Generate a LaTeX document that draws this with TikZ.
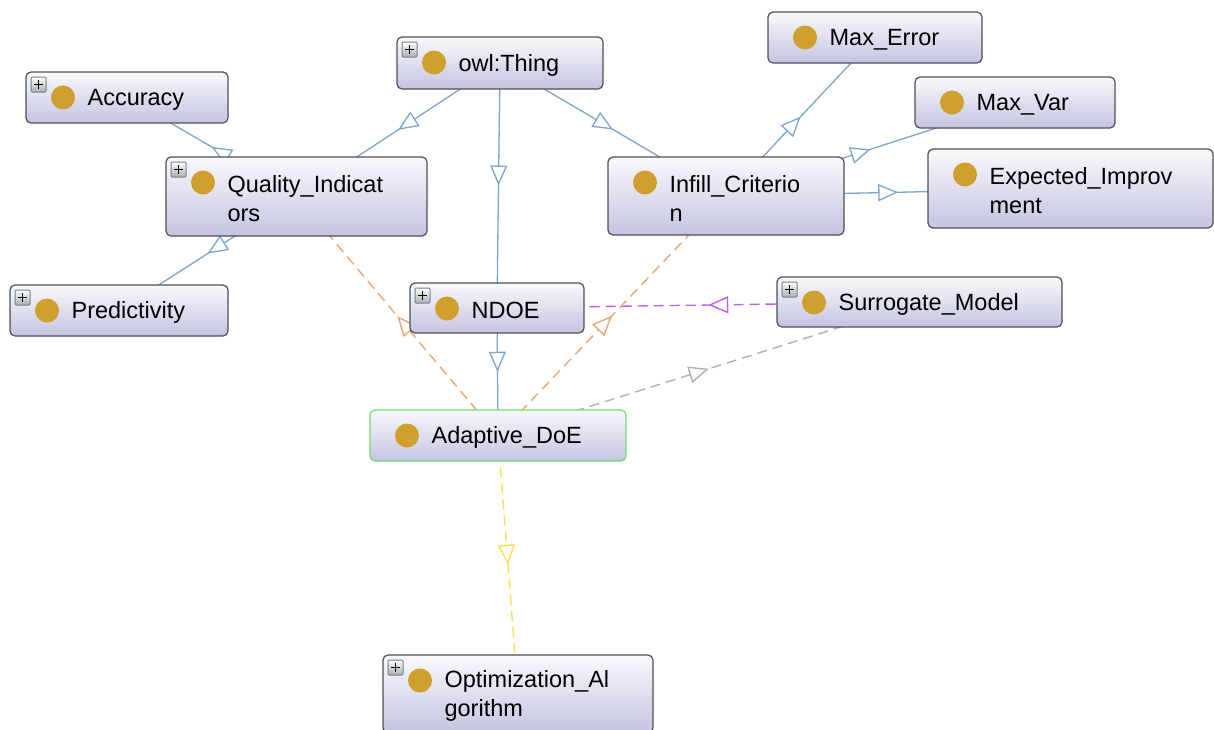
\documentclass[tikz,border=0pt]{standalone}
\usepackage{fontspec}
\setmainfont{Liberation Sans}
\usetikzlibrary{arrows.meta,decorations.markings,backgrounds}

\definecolor{clsline}{RGB}{78,78,86}
\definecolor{clstop}{RGB}{249,249,253}
\definecolor{clsbot}{RGB}{196,196,225}
\definecolor{ballgold}{RGB}{208,160,46}
\definecolor{plusline}{RGB}{112,132,150}
\definecolor{plusfill}{RGB}{172,172,172}
\definecolor{adaptgreen}{RGB}{112,220,112}
\definecolor{isablue}{RGB}{122,166,208}
\definecolor{relorange}{RGB}{238,166,112}
\definecolor{relpurple}{RGB}{192,92,240}
\definecolor{relgray}{RGB}{176,176,176}
\definecolor{relyellow}{RGB}{255,222,84}

\begin{document}
\begin{tikzpicture}[x=1pt, y=-1pt,
  cls/.style={draw=clsline, line width=1.2pt, rounded corners=5pt,
              top color=clstop, bottom color=clsbot, inner sep=0pt,
              path picture={\fill[ballgold] ([shift={(37,25.5)}]path picture bounding box.north west) circle (12pt);}},
  xcls/.style={cls,
              path picture={\fill[ballgold] ([shift={(37,25.5)}]path picture bounding box.north west) circle (12pt);
                \draw[plusline, line width=1pt, rounded corners=1pt, top color=white, bottom color=plusfill]
                  ([shift={(5,5)}]path picture bounding box.north west) rectangle ++(15,15);
                \draw[black, line width=1.8pt]
                  ([shift={(8,12.5)}]path picture bounding box.north west) -- ++(9,0)
                  ([shift={(12.5,8)}]path picture bounding box.north west) -- ++(0,9);}},
  clsname/.style={anchor=west, xshift=62pt, yshift=-2pt, inner sep=0pt, align=left,
                  font=\fontsize{23.5}{29}\selectfont},
  isa/.style={line width=1.3pt, postaction={decorate},
              decoration={markings, mark=at position 0.5 with
                {\arrow{Triangle[length=20pt, width=17pt, fill=white]}}}},
  rel/.style={isa, draw=#1, line width=1.4pt, dash pattern=on 10pt off 6pt}
]
  \useasboundingbox (0,0) rectangle (1214,729);

  % top row
  \node[xcls, minimum width=206, minimum height=52, label={[clsname]left:{owl:Thing}}] (thing) at (500,63) {};
  \node[xcls, minimum width=202, minimum height=51, label={[clsname]left:Accuracy}] (acc) at (127,97.5) {};
  \node[cls, minimum width=214, minimum height=51, label={[clsname]left:Max\_Error}] (maxerr) at (875,37.5) {};
  \node[cls, minimum width=200, minimum height=51, label={[clsname]left:Max\_Var}] (maxvar) at (1015,102.5) {};

  % second row
  \node[xcls, minimum width=261, minimum height=79, label={[clsname]left:Quality\_Indicat\\ors}] (qi) at (296.5,196.5) {};
  \node[cls, minimum width=236, minimum height=78, label={[clsname]left:Infill\_Criterio\\n}] (infill) at (726,196) {};
  \node[cls, minimum width=285, minimum height=79, label={[clsname]left:Expected\_Improv\\ment}] (expected) at (1070.5,188.5) {};

  % third row
  \node[xcls, minimum width=218, minimum height=51, label={[clsname]left:Predictivity}] (pred) at (119,310.5) {};
  \node[xcls, minimum width=174, minimum height=50, label={[clsname]left:NDOE}] (ndoe) at (497,308) {};
  \node[xcls, minimum width=285, minimum height=50, label={[clsname]left:Surrogate\_Model}] (surr) at (919.5,302) {};

  % lower part
  \node[cls, draw=adaptgreen, minimum width=256, minimum height=51, label={[clsname]left:Adaptive\_DoE}] (adapt) at (498,435.5) {};
  \node[xcls, minimum width=270, minimum height=78, label={[clsname]left:Optimization\_Al\\gorithm}] (opt) at (518,694) {};

  % subclass links and object properties
  \begin{scope}[on background layer]
    \draw[isa, isablue] (thing.center) -- (qi.center);
    \draw[isa, isablue] (thing.center) -- (ndoe.center);
    \draw[isa, isablue] (thing.center) -- (infill.center);
    \draw[isa, isablue] (qi.center) -- (acc.center);
    \draw[isa, isablue] (qi.center) -- (pred.center);
    \draw[isa, isablue] (infill.center) -- (maxerr.center);
    \draw[isa, isablue] (infill.center) -- (maxvar.center);
    \draw[isa, isablue] (infill.center) -- (expected.center);
    \draw[isa, isablue] (ndoe.center) -- (adapt.center);
    \draw[rel=relorange] (adapt.center) -- (qi.center);
    \draw[rel=relorange] (adapt.center) -- (infill.center);
    \draw[rel=relpurple] (surr.center) -- (ndoe.center);
    \draw[rel=relgray] (adapt.center) -- (surr.center);
    \draw[rel=relyellow] (adapt.center) -- (opt.center);
  \end{scope}
\end{tikzpicture}
\end{document}
